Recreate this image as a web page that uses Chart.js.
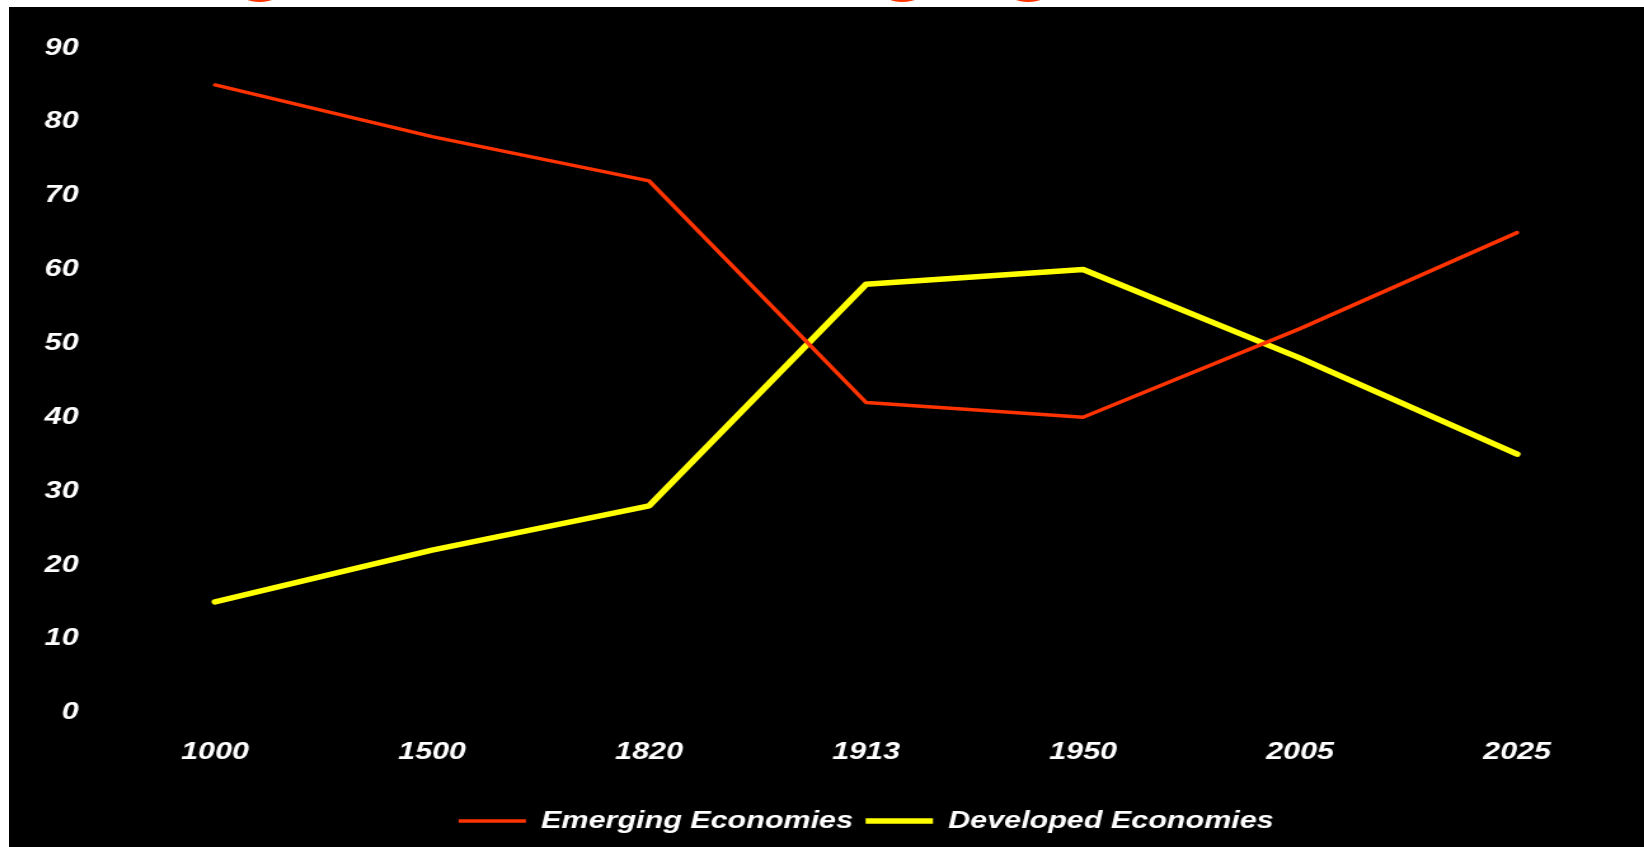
<!DOCTYPE html>
<html>
<head>
<meta charset="utf-8">
<script src="https://cdn.jsdelivr.net/npm/chart.js@4/dist/chart.umd.min.js"></script>
<style>
  html, body { margin: 0; padding: 0; background: #ffffff; width: 1644px; height: 847px; overflow: hidden; position: relative; }
  #title { position: absolute; left: 30px; top: -68px; font-family: 'Liberation Sans', Arial, sans-serif; font-weight: bold; font-size: 66px; line-height: 66px; color: #ff3300; white-space: nowrap; transform: scaleX(1.27); transform-origin: 0 0; z-index: 1; }
  #bg { position: absolute; left: 9px; top: 7px; width: 1635px; height: 840px; background: #000000; z-index: 2; }
  #wrap { position: absolute; left: 9px; top: 7px; width: 1287px; height: 840px; transform: scaleX(1.2705); transform-origin: 0 0; z-index: 3; }
</style>
</head>
<body>
<div id="title">Rising Share of Emerging Economies</div>
<div id="bg"></div>
<div id="wrap"><canvas id="c"></canvas></div>
<script>
const categories = ['1000', '1500', '1820', '1913', '1950', '2005', '2025'];
const emerging = [85, 78, 72, 42, 40, 52, 65];
const developed = [15, 22, 28, 58, 60, 48, 35];
const yTicks = [0, 10, 20, 30, 40, 50, 60, 70, 80, 90];
const seriesNames = ['Emerging Economies', 'Developed Economies'];

Chart.defaults.font.family = "'Liberation Sans', Arial, sans-serif";
Chart.defaults.font.size = 24;
Chart.defaults.font.style = 'italic';
Chart.defaults.font.weight = 'bold';
Chart.defaults.color = '#ffffff';

new Chart(document.getElementById('c'), {
  type: 'line',
  data: {
    labels: categories,
    datasets: [
      { label: seriesNames[0], data: emerging, borderColor: '#ff3300', backgroundColor: '#ff3300', borderWidth: 3.5, pointRadius: 0, tension: 0, borderCapStyle: 'round', borderJoinStyle: 'round' },
      { label: seriesNames[1], data: developed, borderColor: '#ffff00', backgroundColor: '#ffff00', borderWidth: 5.5, pointRadius: 0, tension: 0, borderCapStyle: 'round', borderJoinStyle: 'round' }
    ]
  },
  options: {
    responsive: true,
    maintainAspectRatio: false,
    animation: false,
    layout: { padding: { left: 0, right: 14.6, top: 41, bottom: 4 } },
    plugins: {
      title: { display: false },
      tooltip: { enabled: false },
      legend: {
        display: true,
        position: 'bottom',
        fullSize: false,
        labels: { usePointStyle: true, pointStyle: 'line', pointStyleWidth: 53, padding: 10, color: '#ffffff' }
      }
    },
    scales: {
      x: {
        offset: true,
        grid: { display: false, drawTicks: false },
        border: { display: false },
        ticks: { padding: 25, maxRotation: 0, color: '#ffffff' },
        afterFit: (s) => { s.height = 86.4; }
      },
      y: {
        min: 0, max: 90,
        grid: { display: false, drawTicks: false },
        border: { display: false },
        afterBuildTicks: (s) => { s.ticks = yTicks.map(v => ({ value: v })); },
        ticks: { padding: 22, color: '#ffffff' },
        afterFit: (s) => { s.width = 76.8; }
      }
    }
  }
});
</script>
</body>
</html>
